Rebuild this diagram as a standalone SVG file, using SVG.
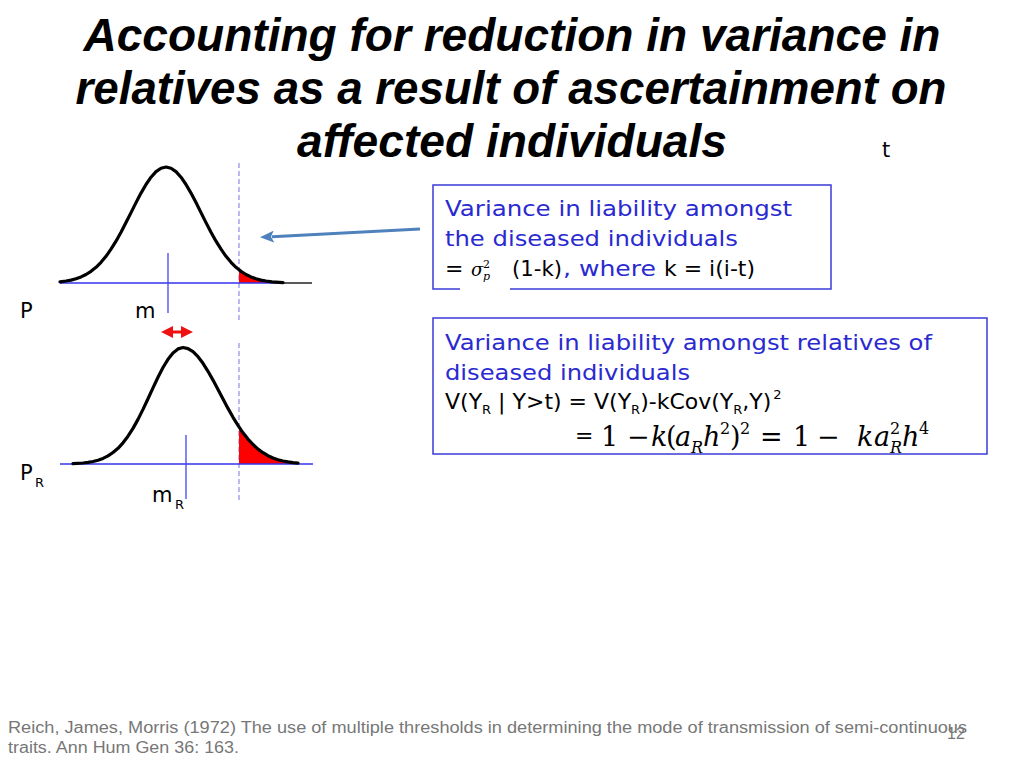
<svg xmlns="http://www.w3.org/2000/svg" width="1024" height="768" viewBox="0 0 1024 768">
<style>
.title{font-family:"Liberation Sans",Arial,sans-serif;font-weight:bold;font-style:italic;font-size:46px;fill:#000}
.lbl{font-family:"DejaVu Sans","Liberation Sans",sans-serif;font-size:21px;fill:#000}
.sub{font-size:13px}
.bt{font-family:"DejaVu Sans","Liberation Sans",sans-serif;font-size:22px;fill:#2a2ad0}
.bk{font-family:"DejaVu Sans","Liberation Sans",sans-serif;font-size:22px;fill:#000}
.bs{font-size:13px}
.math{font-family:"DejaVu Serif","Liberation Serif",serif;font-size:27px;fill:#000}
.mi{font-style:italic}
.ms{font-size:16px}
.foot{font-family:"Liberation Sans Narrow","Liberation Sans",sans-serif;font-size:16px;fill:#777}
.box{fill:#fff;stroke:#3a3ad8;stroke-width:1.5}
.curve{fill:none;stroke:#000;stroke-width:3.2;stroke-linecap:round;stroke-linejoin:round}
.base{stroke:#3333ee;stroke-width:1.5}
.mean{stroke:#4444ee;stroke-width:1.3}
.thr{stroke:#8a8aee;stroke-width:1.2;stroke-dasharray:5 3}
.tail{fill:#ff0000;stroke:none}
</style>
<defs>
<marker id="redHead" viewBox="0 0 12 12" refX="6" refY="6" markerWidth="12" markerHeight="12" markerUnits="userSpaceOnUse" orient="auto-start-reverse">
<path d="M0,0 L12,6 L0,12 z" fill="#ee1111"/>
</marker>
<marker id="blueHead" viewBox="0 0 14 12" refX="2" refY="6" markerWidth="14" markerHeight="12" markerUnits="userSpaceOnUse" orient="auto">
<path d="M0,0 L14,6 L0,12 L3,6 z" fill="#4f81bd"/>
</marker>
</defs>
<rect width="1024" height="768" fill="#fff"/>

<g id="title">
<text class="title" x="512" y="51" text-anchor="middle" textLength="857" lengthAdjust="spacingAndGlyphs">Accounting for reduction in variance in</text>
<text class="title" x="511" y="104" text-anchor="middle" textLength="871" lengthAdjust="spacingAndGlyphs">relatives as a result of ascertainment on</text>
<text class="title" x="512" y="157" text-anchor="middle" textLength="430" lengthAdjust="spacingAndGlyphs">affected individuals</text>
</g>

<g id="threshold-label">
<text class="lbl" x="882" y="157" font-size="18">t</text>
</g>

<g id="curve-top">
<line class="thr" x1="239" y1="163" x2="239" y2="320"/>
<polygon class="tail" points="239,283 239,269.8 241,271.3 246,274.5 251,276.9 256,278.7 261,280.1 266,281.0 272,281.8 283,282.6 283,283"/>
<line class="base" x1="60" y1="283" x2="283" y2="283"/>
<line x1="283" y1="283" x2="312" y2="283" stroke="#000" stroke-width="1.3"/>
<line class="mean" x1="168" y1="253" x2="168" y2="313"/>
<polyline class="curve" points="60,281.8 66,281.0 71,280.1 76,278.7 81,276.9 86,274.5 91,271.3 96,267.3 101,262.3 106,256.3 111,249.2 116,241.2 121,232.3 126,222.6 131,212.6 136,202.6 141,193.1 146,184.5 151,177.2 156,171.6 161,168.2 166,167 171,168.2 176,171.6 181,177.2 186,184.5 191,193.1 196,202.6 201,212.6 206,222.6 211,232.3 216,241.2 221,249.2 226,256.3 231,262.3 236,267.3 241,271.3 246,274.5 251,276.9 256,278.7 261,280.1 266,281.0 272,281.8 283,282.6"/>
<text class="lbl" x="20" y="318">P</text>
<text class="lbl" x="135" y="318">m</text>
</g>

<g id="curve-bottom">
<line class="thr" x1="239" y1="343" x2="239" y2="500"/>
<polygon class="tail" points="239,464 239,426.9 243,432.8 248,439.1 253,444.5 258,449.1 263,452.7 268,455.7 273,458.0 278,459.7 283,461.0 288,461.9 293,462.6 298,463.1 298,464"/>
<line class="base" x1="60" y1="464" x2="313" y2="464"/>
<line class="mean" x1="186" y1="435" x2="186" y2="499"/>
<polyline class="curve" points="73,463.6 83,463.0 88,462.4 93,461.5 98,460.2 103,458.4 108,455.9 113,452.5 118,448.3 123,442.8 128,436.2 133,428.4 138,419.4 143,409.4 148,398.8 153,387.9 158,377.3 163,367.5 168,359.3 173,352.9 178,348.9 183,347.5 188,348.6 193,351.7 198,356.7 203,363.3 208,371.3 213,380.1 218,389.5 223,399.0 228,408.4 233,417.3 238,425.4 243,432.8 248,439.1 253,444.5 258,449.1 263,452.7 268,455.7 273,458.0 278,459.7 283,461.0 288,461.9 293,462.6 298,463.1"/>
<text class="lbl" x="20" y="480">P<tspan class="sub" x="35" dy="7">R</tspan></text>
<text class="lbl" x="152" y="502">m<tspan class="sub" x="175" dy="7">R</tspan></text>
</g>

<g id="box1">
<rect class="box" x="433" y="185" width="398" height="104"/>
<rect x="460" y="286" width="50" height="6" fill="#fff"/>
<text class="bt" x="445" y="216" textLength="347" lengthAdjust="spacingAndGlyphs">Variance in liability amongst</text>
<text class="bt" x="445" y="246" textLength="293" lengthAdjust="spacingAndGlyphs">the diseased individuals</text>
<text class="bk" x="445" y="276">=</text>
<text font-family="DejaVu Serif,Liberation Serif,serif" font-style="italic" font-size="18" x="471" y="276">σ<tspan font-style="normal" font-size="11" x="483" dy="-8">2</tspan><tspan font-size="11" x="483" dy="12">p</tspan></text>
<text class="bk" x="512" y="276" textLength="50" lengthAdjust="spacingAndGlyphs">(1-k)</text>
<text class="bt" x="563" y="276" textLength="93" lengthAdjust="spacingAndGlyphs">, where</text>
<text class="bk" x="664" y="276" textLength="91" lengthAdjust="spacingAndGlyphs">k = i(i-t)</text>
</g>

<g id="box2">
<rect class="box" x="433" y="318" width="554" height="136"/>
<text class="bt" x="445" y="350" textLength="487" lengthAdjust="spacingAndGlyphs">Variance in liability amongst relatives of</text>
<text class="bt" x="445" y="380" textLength="245" lengthAdjust="spacingAndGlyphs">diseased individuals</text>
<text class="bk" x="445" y="409">V(Y<tspan class="bs" dy="5">R</tspan><tspan dy="-5"> | Y&gt;t) = V(Y</tspan><tspan class="bs" dy="5">R</tspan><tspan dy="-5">)-kCov(Y</tspan><tspan class="bs" dy="5">R</tspan><tspan dy="-5">,Y)</tspan><tspan class="bs" dx="2" dy="-10">2</tspan></text>
<text class="bk" x="575" y="443">=</text>
<text class="math" y="446"><tspan x="601">1</tspan><tspan x="627">−</tspan><tspan class="mi" x="651">k</tspan><tspan x="666">(</tspan><tspan class="mi" x="675">a</tspan><tspan class="mi ms" x="691" dy="7">R</tspan><tspan class="mi" x="703" dy="-7">h</tspan><tspan class="ms" x="720" dy="-12">2</tspan><tspan x="730" dy="12">)</tspan><tspan class="ms" x="740" dy="-12">2</tspan><tspan x="760" dy="12">=</tspan><tspan x="793">1</tspan><tspan x="817">−</tspan><tspan class="mi" x="857">k</tspan><tspan class="mi" x="874">a</tspan><tspan class="ms" x="890" dy="-12">2</tspan><tspan class="mi ms" x="890" dy="19">R</tspan><tspan class="mi" x="902" dy="-7">h</tspan><tspan class="ms" x="919" dy="-12">4</tspan></text>
</g>

<g id="connectors">
<line x1="420" y1="229" x2="272" y2="236.7" stroke="#4f81bd" stroke-width="3" marker-end="url(#blueHead)"/>
<line x1="167" y1="332" x2="187" y2="332" stroke="#ee1111" stroke-width="3" marker-start="url(#redHead)" marker-end="url(#redHead)"/>
</g>

<g id="footer">
<text class="foot" x="8" y="733" textLength="959" lengthAdjust="spacingAndGlyphs">Reich, James, Morris (1972) The use of multiple thresholds in determining the mode of transmission of semi-continuous</text>
<text class="foot" x="8" y="753" textLength="231" lengthAdjust="spacingAndGlyphs">traits. Ann Hum Gen 36: 163.</text>
<text class="foot" x="947" y="739" font-size="14">12</text>
</g>
</svg>
